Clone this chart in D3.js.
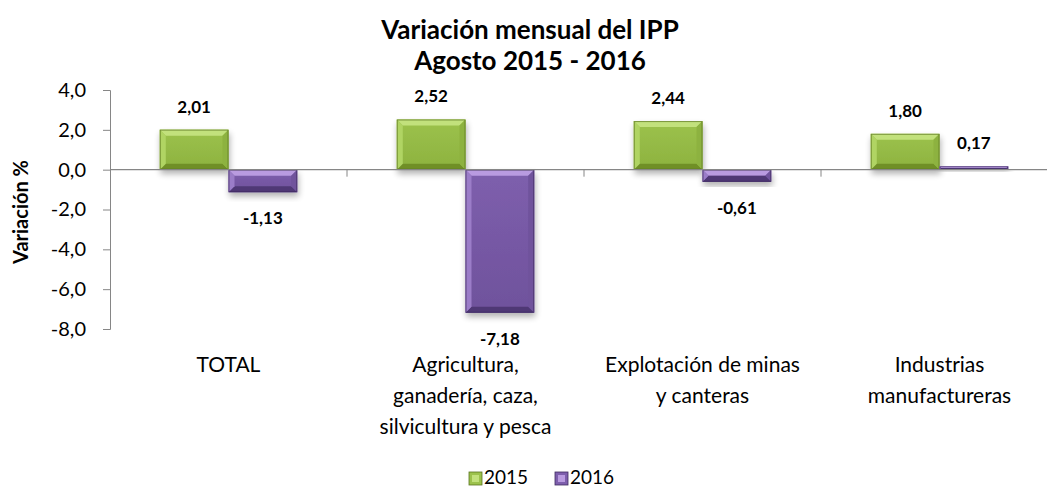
<!DOCTYPE html>
<html>
<head>
<meta charset="utf-8">
<script src="https://cdn.jsdelivr.net/npm/d3@7"></script>
<style>
  body { margin: 0; background: #fff; }
  text { font-family: Lato, "Open Sans", sans-serif; fill: #000; }
</style>
</head>
<body>
<div id="chart"></div>
<script>
// data
var categories = ["TOTAL", "Agricultura, ganadería, caza, silvicultura y pesca", "Explotación de minas y canteras", "Industrias manufactureras"];
var categoryLines = [["TOTAL"], ["Agricultura,", "ganadería, caza,", "silvicultura y pesca"], ["Explotación de minas", "y canteras"], ["Industrias", "manufactureras"]];
var series = ["2015", "2016"];
var values2015 = [2.01, 2.52, 2.44, 1.80];
var values2016 = [-1.13, -7.18, -0.61, 0.17];
var yTicks = [4, 2, 0, -2, -4, -6, -8];

var width = 1047, height = 489;
var plot = {left: 110, right: 1058, top: 90, bottom: 329};

var colors = {
    "2015": {main: "#9cc24c", light: "#c2e17c", side: "#b0d463", dark: "#6f8f28", edge: "#5b7620", shade: "#8db23f"},
    "2016": {main: "#7e5fad", light: "#b99be0", side: "#9b7dc8", dark: "#4f3875", edge: "#3f2b60", shade: "#6f529c"}
};

var svg = d3.select("#chart").append("svg")
    .attr("width", width)
    .attr("height", height);

var defs = svg.append("defs");
var shadow = defs.append("filter").attr("id", "shadow")
    .attr("x", "-20%").attr("y", "-20%").attr("width", "140%").attr("height", "160%");
shadow.append("feGaussianBlur").attr("in", "SourceAlpha").attr("stdDeviation", 3);
shadow.append("feOffset").attr("dx", 1).attr("dy", 4).attr("result", "blur");
shadow.append("feComponentTransfer").append("feFuncA").attr("type", "linear").attr("slope", 0.3);
var merge = shadow.append("feMerge");
merge.append("feMergeNode");
merge.append("feMergeNode").attr("in", "SourceGraphic");

series.forEach(function(s){
    var g = defs.append("linearGradient").attr("id", "grad" + s)
        .attr("x1", 0).attr("y1", 0).attr("x2", 0).attr("y2", 1);
    g.append("stop").attr("offset", "0%").attr("stop-color", colors[s].main);
    g.append("stop").attr("offset", "100%").attr("stop-color", colors[s].shade);
});

var x0 = d3.scaleBand().domain(categories).range([plot.left, plot.right]);
var x1 = d3.scaleBand().domain(series).range([x0.bandwidth() * 0.21, x0.bandwidth() * 0.79]);
var y = d3.scaleLinear().domain([-8, 4]).range([plot.bottom, plot.top]);

// titles
svg.append("text")
    .attr("x", 530).attr("y", 39)
    .attr("text-anchor", "middle")
    .style("font-size", "26px").style("font-weight", "bold")
    .text("Variación mensual del IPP");
svg.append("text")
    .attr("x", 530).attr("y", 70)
    .attr("text-anchor", "middle")
    .style("font-size", "26px").style("font-weight", "bold")
    .text("Agosto 2015 - 2016");

svg.append("text")
    .attr("transform", "translate(28," + 212 + ") rotate(-90)")
    .attr("text-anchor", "middle")
    .style("font-size", "20px").style("font-weight", "bold")
    .text("Variación %");

// y axis
var yAxis = svg.append("g")
    .attr("transform", "translate(" + plot.left + ",0)")
    .call(d3.axisLeft(y).tickValues(yTicks).tickSize(7).tickSizeOuter(7)
        .tickFormat(function(d){ return d3.format(".1f")(d).replace(".", ",").replace("−", "-"); }));
yAxis.select(".domain").attr("stroke", "#868686");
yAxis.selectAll(".tick line").attr("stroke", "#868686");
yAxis.selectAll(".tick text")
    .attr("x", -24)
    .style("font-size", "20px")
    .style("font-family", "Lato, sans-serif");

// bars
var pairs = [];
categories.forEach(function(c, i){
    pairs.push({cat: c, s: "2015", v: values2015[i]});
    pairs.push({cat: c, s: "2016", v: values2016[i]});
});

function bevelBar(g, d){
    var bx = x0(d.cat) + x1(d.s), bw = x1.bandwidth();
    var by = y(Math.max(0, d.v)), bh = Math.abs(y(d.v) - y(0));
    var b = Math.min(6, bh / 2, bw / 2);
    var c = colors[d.s];
    var grp = g.append("g").attr("filter", "url(#shadow)");
    grp.append("rect").attr("x", bx).attr("y", by).attr("width", bw).attr("height", bh)
        .attr("fill", "url(#grad" + d.s + ")");
    var poly = function(pts, fill){
        grp.append("polygon").attr("points", pts.map(function(p){ return p.join(","); }).join(" ")).attr("fill", fill);
    };
    poly([[bx, by], [bx + bw, by], [bx + bw - b, by + b], [bx + b, by + b]], c.light);
    poly([[bx, by + bh], [bx + bw, by + bh], [bx + bw - b, by + bh - b], [bx + b, by + bh - b]], c.dark);
    poly([[bx, by], [bx + b, by + b], [bx + b, by + bh - b], [bx, by + bh]], c.side);
    poly([[bx + bw, by], [bx + bw - b, by + b], [bx + bw - b, by + bh - b], [bx + bw, by + bh]], c.shade);
    grp.append("rect").attr("x", bx + 0.5).attr("y", by + 0.5).attr("width", Math.max(0, bw - 1)).attr("height", Math.max(0, bh - 1))
        .attr("fill", "none").attr("stroke", c.edge).attr("stroke-width", 1).attr("stroke-opacity", 0.7);
}

var barLayer = svg.append("g");
pairs.forEach(function(d){ bevelBar(barLayer, d); });

// zero line and category ticks
svg.append("line")
    .attr("x1", plot.left).attr("x2", plot.right)
    .attr("y1", y(0)).attr("y2", y(0))
    .attr("stroke", "#868686").attr("stroke-width", 1.3);
svg.selectAll(".cat-tick")
    .data(categories.slice(1))
    .enter().append("line")
        .attr("class", "cat-tick")
        .attr("x1", function(d){ return x0(d); })
        .attr("x2", function(d){ return x0(d); })
        .attr("y1", y(0)).attr("y2", y(0) + 7)
        .attr("stroke", "#868686");

// data labels
svg.selectAll(".lbl")
    .data(pairs)
    .enter().append("text")
        .attr("class", "lbl")
        .attr("text-anchor", "middle")
        .attr("x", function(d){ return x0(d.cat) + x1(d.s) + x1.bandwidth() / 2; })
        .attr("y", function(d){ return d.v >= 0 ? y(d.v) - 17 : y(d.v) + 32; })
        .style("font-size", "17px").style("font-weight", "bold")
        .text(function(d){ return d3.format(".2f")(d.v).replace(".", ",").replace("−", "-"); });

// category labels
categories.forEach(function(c, i){
    var t = svg.append("text")
        .attr("text-anchor", "middle")
        .attr("x", x0(c) + x0.bandwidth() / 2)
        .attr("y", 372)
        .style("font-size", "21px");
    categoryLines[i].forEach(function(line, j){
        t.append("tspan").attr("x", x0(c) + x0.bandwidth() / 2).attr("dy", j === 0 ? 0 : 31).text(line);
    });
});

// legend
var legend = svg.append("g").attr("transform", "translate(469,478)");
var legendX = [0, 86];
series.forEach(function(s, i){
    var lg = legend.append("g").attr("transform", "translate(" + legendX[i] + ",0)");
    var c = colors[s];
    lg.append("rect").attr("x", 0).attr("y", -6).attr("width", 13).attr("height", 13).attr("fill", c.main).attr("stroke", c.edge).attr("stroke-width", 0.8);
    lg.append("rect").attr("x", 3).attr("y", -3).attr("width", 7).attr("height", 7).attr("fill", c.light);
    lg.append("text").attr("x", 15).attr("y", 6).style("font-size", "19px").text(s);
});
</script>
</body>
</html>
